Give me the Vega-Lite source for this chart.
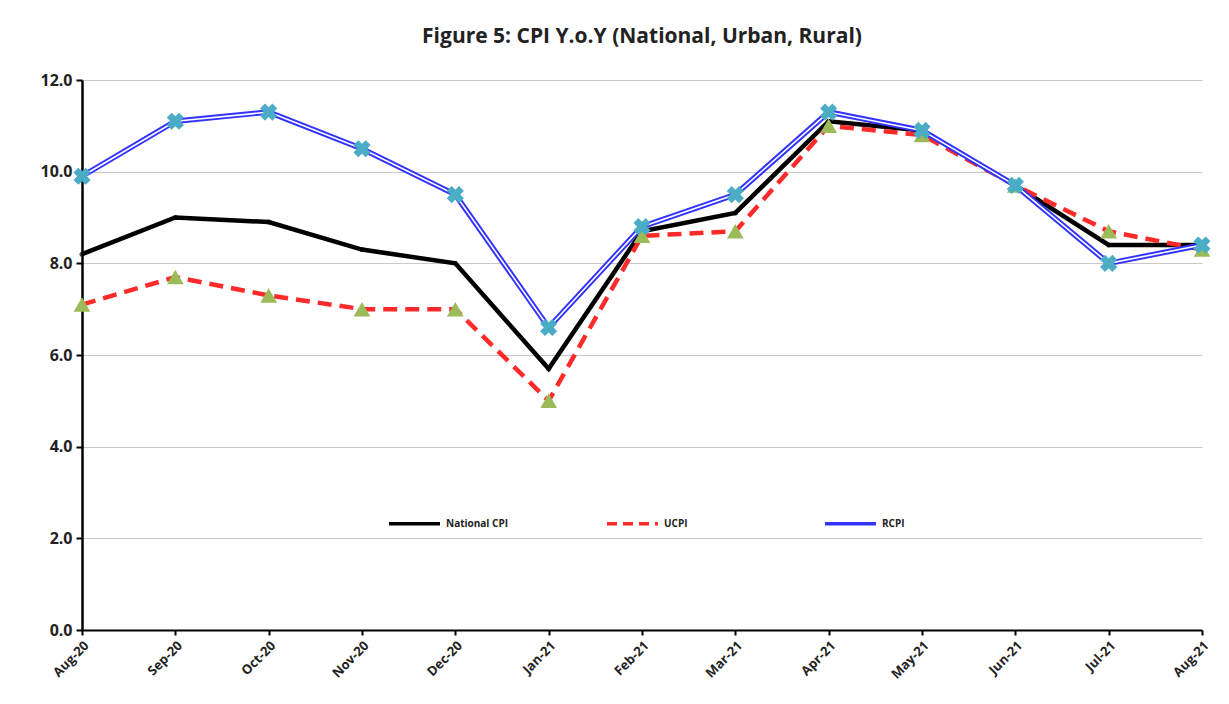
{
  "$schema": "https://vega.github.io/schema/vega-lite/v6.json",
  "autosize": "none",
  "width": 1120,
  "height": 550,
  "padding": {"left": 82, "top": 80, "right": 27, "bottom": 74},
  "background": "white",
  "title": {
    "text": "Figure 5: CPI Y.o.Y (National, Urban, Rural)",
    "fontSize": 21,
    "fontWeight": "bold",
    "font": "Open Sans",
    "color": "#222222",
    "anchor": "middle",
    "offset": 25
  },
  "config": {
    "view": {"stroke": null},
    "font": "Open Sans"
  },
  "data": {
    "values": [
      {"month": "Aug-20", "series": "National CPI", "value": 8.2},
      {"month": "Sep-20", "series": "National CPI", "value": 9.0},
      {"month": "Oct-20", "series": "National CPI", "value": 8.9},
      {"month": "Nov-20", "series": "National CPI", "value": 8.3},
      {"month": "Dec-20", "series": "National CPI", "value": 8.0},
      {"month": "Jan-21", "series": "National CPI", "value": 5.7},
      {"month": "Feb-21", "series": "National CPI", "value": 8.7},
      {"month": "Mar-21", "series": "National CPI", "value": 9.1},
      {"month": "Apr-21", "series": "National CPI", "value": 11.1},
      {"month": "May-21", "series": "National CPI", "value": 10.9},
      {"month": "Jun-21", "series": "National CPI", "value": 9.7},
      {"month": "Jul-21", "series": "National CPI", "value": 8.4},
      {"month": "Aug-21", "series": "National CPI", "value": 8.4},
      {"month": "Aug-20", "series": "UCPI", "value": 7.1},
      {"month": "Sep-20", "series": "UCPI", "value": 7.7},
      {"month": "Oct-20", "series": "UCPI", "value": 7.3},
      {"month": "Nov-20", "series": "UCPI", "value": 7.0},
      {"month": "Dec-20", "series": "UCPI", "value": 7.0},
      {"month": "Jan-21", "series": "UCPI", "value": 5.0},
      {"month": "Feb-21", "series": "UCPI", "value": 8.6},
      {"month": "Mar-21", "series": "UCPI", "value": 8.7},
      {"month": "Apr-21", "series": "UCPI", "value": 11.0},
      {"month": "May-21", "series": "UCPI", "value": 10.8},
      {"month": "Jun-21", "series": "UCPI", "value": 9.7},
      {"month": "Jul-21", "series": "UCPI", "value": 8.7},
      {"month": "Aug-21", "series": "UCPI", "value": 8.3},
      {"month": "Aug-20", "series": "RCPI", "value": 9.9},
      {"month": "Sep-20", "series": "RCPI", "value": 11.1},
      {"month": "Oct-20", "series": "RCPI", "value": 11.3},
      {"month": "Nov-20", "series": "RCPI", "value": 10.5},
      {"month": "Dec-20", "series": "RCPI", "value": 9.5},
      {"month": "Jan-21", "series": "RCPI", "value": 6.6},
      {"month": "Feb-21", "series": "RCPI", "value": 8.8},
      {"month": "Mar-21", "series": "RCPI", "value": 9.5},
      {"month": "Apr-21", "series": "RCPI", "value": 11.3},
      {"month": "May-21", "series": "RCPI", "value": 10.9},
      {"month": "Jun-21", "series": "RCPI", "value": 9.7},
      {"month": "Jul-21", "series": "RCPI", "value": 8.0},
      {"month": "Aug-21", "series": "RCPI", "value": 8.4}
    ]
  },
  "encoding": {
    "x": {
      "field": "month",
      "type": "ordinal",
      "sort": null,
      "scale": {"type": "point", "padding": 0},
      "axis": {
        "title": null,
        "labelAngle": -45,
        "labelFontSize": 13,
        "labelFontWeight": "bold",
        "labelColor": "#222222",
        "labelPadding": 4,
        "domainColor": "#000000",
        "domainWidth": 2,
        "tickColor": "#000000",
        "tickWidth": 2,
        "tickSize": 5,
        "grid": false
      }
    },
    "y": {
      "field": "value",
      "type": "quantitative",
      "scale": {"domain": [0, 12], "nice": false},
      "axis": {
        "title": null,
        "values": [0, 2, 4, 6, 8, 10, 12],
        "format": ".1f",
        "labelFontSize": 16,
        "labelFontWeight": "bold",
        "labelColor": "#222222",
        "labelPadding": 4,
        "domainColor": "#000000",
        "domainWidth": 2.5,
        "tickColor": "#000000",
        "tickWidth": 2,
        "tickSize": 6,
        "grid": true,
        "gridColor": "#c8c8c8",
        "gridWidth": 1.2
      }
    }
  },
  "layer": [
    {
      "transform": [{"filter": "datum.series === 'National CPI'"}],
      "mark": {"type": "line", "strokeWidth": 4.5, "strokeJoin": "miter"},
      "encoding": {
        "color": {
          "field": "series",
          "type": "nominal",
          "scale": {"domain": ["National CPI", "UCPI", "RCPI"], "range": ["#000000", "#ff2a2a", "#3333ff"]},
          "legend": {
            "title": null,
            "orient": "none",
            "legendX": 305,
            "legendY": 416,
            "direction": "horizontal",
            "columns": 3,
            "gridAlign": "all",
            "columnPadding": 92,
            "symbolType": "stroke",
            "symbolSize": 2600,
            "symbolStrokeWidth": 3.5,
            "labelFontSize": 10,
            "labelFontWeight": "bold",
            "labelColor": "#222222",
            "labelOffset": 4,
            "symbolDash": {"expr": "datum.label === 'UCPI' ? [10, 6] : []"}
          }
        }
      }
    },
    {
      "transform": [{"filter": "datum.series === 'National CPI'"}],
      "mark": {"type": "point", "shape": "circle", "filled": true, "color": "#000000", "size": 25}
    },
    {
      "transform": [{"filter": "datum.series === 'UCPI'"}],
      "mark": {"type": "line", "color": "#ff2a2a", "strokeWidth": 4.5, "strokeDash": [14, 8]}
    },
    {
      "transform": [{"filter": "datum.series === 'UCPI'"}],
      "mark": {"type": "point", "shape": "triangle-up", "filled": true, "color": "#9bbb59", "opacity": 1, "size": 280}
    },
    {
      "transform": [{"filter": "datum.series === 'RCPI'"}],
      "mark": {"type": "line", "color": "#3333ff", "strokeWidth": 5.5}
    },
    {
      "transform": [{"filter": "datum.series === 'RCPI'"}],
      "mark": {"type": "line", "color": "#ffffff", "strokeWidth": 1.6}
    },
    {
      "transform": [{"filter": "datum.series === 'RCPI'"}],
      "mark": {"type": "point", "shape": "cross", "angle": 45, "filled": true, "color": "#4bacc6", "opacity": 1, "size": 300}
    }
  ]
}
